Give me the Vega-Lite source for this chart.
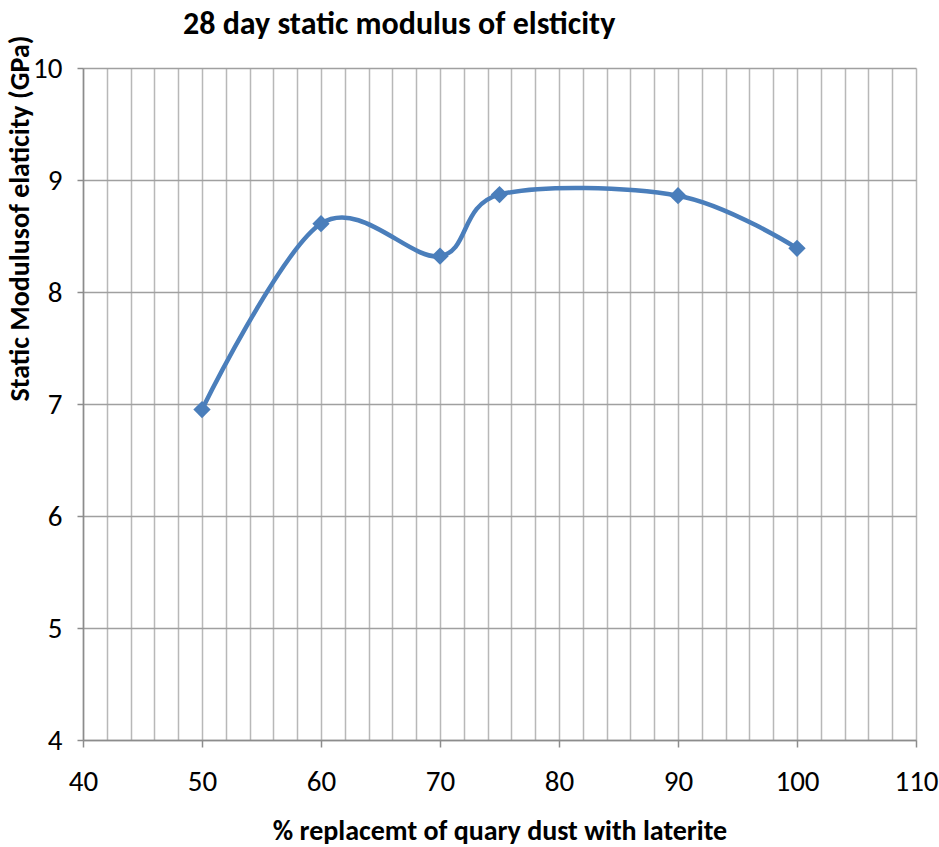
{
  "$schema": "https://vega.github.io/schema/vega-lite/v6.json",
  "autosize": "none",
  "width": 833,
  "height": 672,
  "padding": {"left": 83, "top": 68, "right": 23, "bottom": 107},
  "background": "#ffffff",
  "title": {
    "text": "28 day static modulus of elsticity",
    "anchor": "start",
    "frame": "group",
    "dx": 100,
    "offset": -6,
    "font": "Carlito, Lato, sans-serif",
    "fontSize": 32,
    "fontWeight": "bold",
    "color": "#000000"
  },
  "config": {
    "view": {"stroke": null},
    "axis": {
      "labelFont": "Carlito, Lato, sans-serif",
      "titleFont": "Carlito, Lato, sans-serif",
      "labelColor": "#000000",
      "titleColor": "#000000",
      "labelFontSize": 29,
      "titleFontSize": 28,
      "titleFontWeight": "bold",
      "labelFlush": false,
      "domainColor": "#8c8c8c",
      "tickColor": "#8c8c8c",
      "domainWidth": 1.5,
      "tickWidth": 1.5
    }
  },
  "data": {
    "values": [
      {"replacement": 50, "modulus": 6.95},
      {"replacement": 60, "modulus": 8.61},
      {"replacement": 70, "modulus": 8.32},
      {"replacement": 75, "modulus": 8.87},
      {"replacement": 90, "modulus": 8.86},
      {"replacement": 100, "modulus": 8.39}
    ]
  },
  "layer": [
    {
      "mark": {"type": "line", "interpolate": "cardinal", "color": "#4a7ebb", "strokeWidth": 4.5},
      "encoding": {
        "x": {
          "field": "replacement",
          "type": "quantitative",
          "scale": {"domain": [40, 110], "nice": false, "zero": false},
          "axis": {
            "orient": "bottom",
            "values": [40, 42, 44, 46, 48, 50, 52, 54, 56, 58, 60, 62, 64, 66, 68, 70, 72, 74, 76, 78, 80, 82, 84, 86, 88, 90, 92, 94, 96, 98, 100, 102, 104, 106, 108, 110],
            "grid": true,
            "gridColor": "#b8b8b8",
            "gridWidth": 1.5,
            "gridOpacity": 1,
            "labels": false,
            "ticks": false,
            "domain": false,
            "title": null
          }
        },
        "y": {
          "field": "modulus",
          "type": "quantitative",
          "scale": {"domain": [4, 10], "nice": false, "zero": false},
          "axis": {
            "values": [4, 5, 6, 7, 8, 9, 10],
            "format": "d",
            "grid": true,
            "gridColor": "#a0a0a0",
            "gridWidth": 1.5,
            "gridOpacity": 1,
            "tickSize": 6,
            "labelPadding": 15,
            "title": "Static Modulusof elaticity (GPa)",
            "titleAngle": -90,
            "titleAlign": "center",
            "titleBaseline": "middle",
            "titleX": -63,
            "titleY": 150
          }
        }
      }
    },
    {
      "mark": {"type": "point", "shape": "diamond", "filled": true, "size": 300, "color": "#4a7ebb", "opacity": 1},
      "encoding": {
        "x": {
          "field": "replacement",
          "type": "quantitative",
          "axis": {
            "orient": "bottom",
            "values": [40, 50, 60, 70, 80, 90, 100, 110],
            "format": "d",
            "grid": false,
            "tickSize": 7,
            "labelPadding": 20,
            "titlePadding": 21,
            "title": "% replacemt of quary dust with laterite"
          }
        },
        "y": {"field": "modulus", "type": "quantitative"}
      }
    }
  ],
  "resolve": {"axis": {"x": "independent"}}
}
